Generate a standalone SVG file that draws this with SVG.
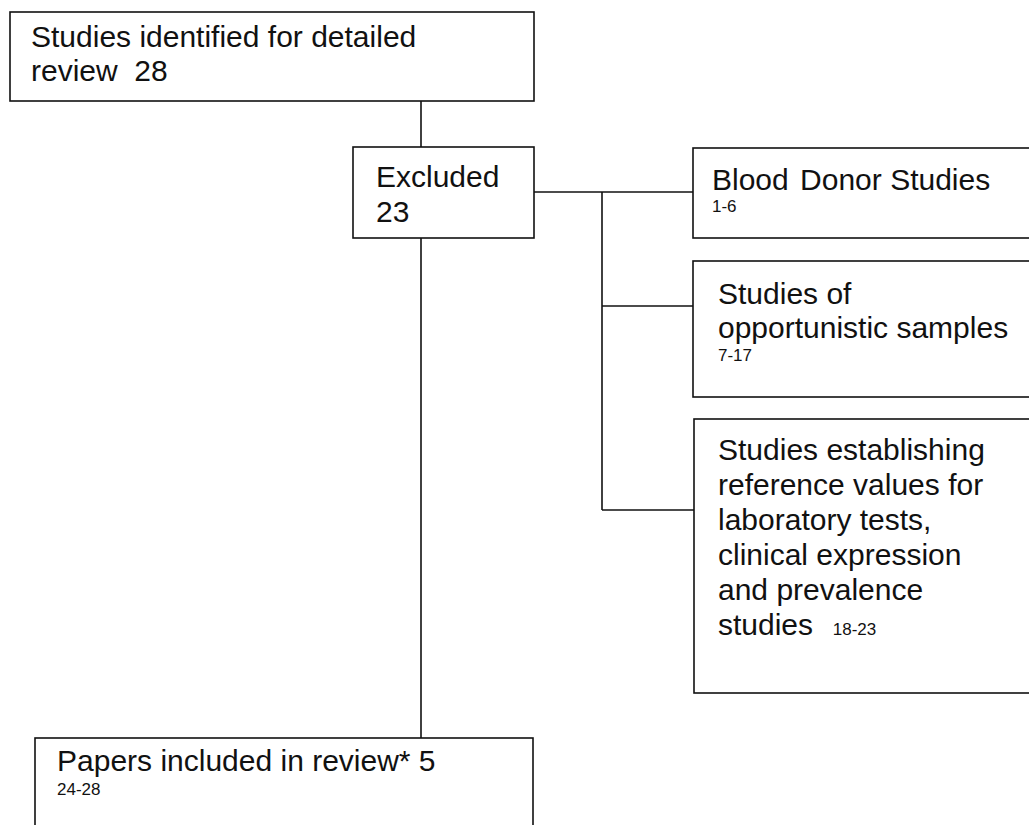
<svg xmlns="http://www.w3.org/2000/svg" width="1029" height="825" viewBox="0 0 1029 825">
  <style>
    .box { fill: #ffffff; stroke: #111111; stroke-width: 1.6; }
    .link { fill: none; stroke: #111111; stroke-width: 1.6; }
    .lbl { font-family: "Liberation Sans", Arial, sans-serif; font-size: 30px; fill: #111111; }
    .ref { font-family: "Liberation Sans", Arial, sans-serif; font-size: 17px; fill: #111111; }
  </style>
  <rect width="1029" height="825" fill="#ffffff"/>

  <!-- connectors -->
  <g id="connectors">
    <line class="link" x1="421" y1="101" x2="421" y2="147"/>
    <line class="link" x1="421" y1="238" x2="421" y2="738"/>
    <line class="link" x1="534" y1="192" x2="693" y2="192"/>
    <line class="link" x1="602" y1="192" x2="602" y2="510"/>
    <line class="link" x1="602" y1="306" x2="693" y2="306"/>
    <line class="link" x1="602" y1="510" x2="694" y2="510"/>
  </g>

  <g id="identified">
    <rect class="box" x="10" y="12" width="524" height="89"/>
    <text class="lbl" x="31" y="47">Studies identified for detailed</text>
    <text class="lbl" x="31" y="81">review&#160; 28</text>
  </g>

  <g id="excluded">
    <rect class="box" x="353" y="147" width="181" height="91"/>
    <text class="lbl" x="376" y="187">Excluded</text>
    <text class="lbl" x="376" y="222">23</text>
  </g>

  <g id="blood-donor">
    <rect class="box" x="693" y="148" width="345" height="90"/>
    <text class="lbl" x="712" y="190">Blood <tspan dx="3">Donor</tspan> Studies</text>
    <text class="ref" x="712" y="212">1-6</text>
  </g>

  <g id="opportunistic">
    <rect class="box" x="693" y="261" width="345" height="136"/>
    <text class="lbl" x="718" y="304">Studies of</text>
    <text class="lbl" x="718" y="338">opportunistic samples</text>
    <text class="ref" x="718" y="361">7-17</text>
  </g>

  <g id="reference-values">
    <rect class="box" x="694" y="419" width="345" height="274"/>
    <text class="lbl" x="718" y="460">Studies establishing</text>
    <text class="lbl" x="718" y="495">reference values for</text>
    <text class="lbl" x="718" y="530">laboratory tests,</text>
    <text class="lbl" x="718" y="565">clinical expression</text>
    <text class="lbl" x="718" y="600">and prevalence</text>
    <text class="lbl" x="718" y="635">studies&#160; <tspan class="ref" dx="3">18-23</tspan></text>
  </g>

  <g id="included">
    <rect class="box" x="35" y="738" width="498" height="100"/>
    <text class="lbl" x="57" y="771">Papers included in review* 5</text>
    <text class="ref" x="57" y="795">24-28</text>
  </g>
</svg>
